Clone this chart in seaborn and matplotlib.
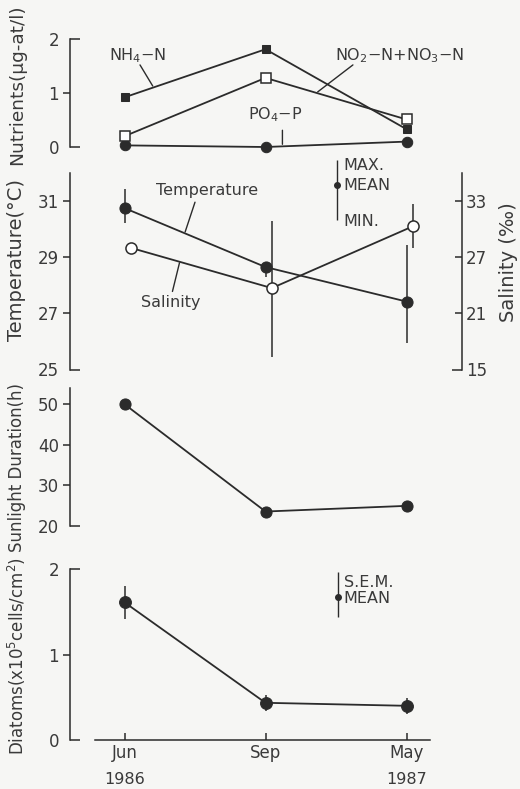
import numpy as np
import pandas as pd
import matplotlib
matplotlib.use("Agg")
import matplotlib.pyplot as plt
import seaborn as sns

# ---- data -------------------------------------------------------------
months = ["Jun", "Sep", "May"]
years = ["1986", "", "1987"]
pos = [0, 1, 2]

nh4 = [0.92, 1.81, 0.33]
no2_no3 = [0.20, 1.28, 0.51]
po4 = [0.03, 0.00, 0.10]

temp_mean = [30.75, 28.65, 27.42]
temp_max = [31.42, 28.83, 29.42]
temp_min = [30.23, 28.30, 25.95]

sal_mean = [28.0, 23.7, 30.3]
sal_max = [np.nan, 30.9, 32.7]
sal_min = [np.nan, 16.3, 28.0]

sunlight = [50.0, 23.5, 24.9]

diatom_mean = [1.61, 0.435, 0.40]
diatom_sem = [0.19, 0.09, 0.095]

# ---- style ------------------------------------------------------------
sns.set_theme(style="ticks")
plt.rcParams["font.family"] = ["DejaVu Sans"]
ink = "#2b2b2b"
txt = "#3a3a3a"
bg = "#f6f6f4"
plt.rcParams.update({
    "text.color": txt, "axes.labelcolor": txt,
    "xtick.color": ink, "ytick.color": ink,
    "xtick.labelcolor": txt, "ytick.labelcolor": txt,
    "axes.edgecolor": ink, "axes.linewidth": 1.1,
})

W, H = 520, 789
fig = plt.figure(figsize=(W / 100, H / 100), dpi=100, facecolor=bg)

X0, X1 = 70, 462          # left / right spine positions (px)
PX_JUN, PX_STEP = 124.5, 141.0
xlim = ((X0 - PX_JUN) / PX_STEP, (X1 - PX_JUN) / PX_STEP)


def frame(top_px, bottom_px):
    return [X0 / W, 1 - bottom_px / H, (X1 - X0) / W, (bottom_px - top_px) / H]


def style_axes(ax, lo, hi, mid_ticks, cap_ticks, fmt="{:g}"):
    ax.set_facecolor("none")
    ax.set_xlim(*xlim)
    ax.set_ylim(lo, hi)
    for s in ("top", "right", "bottom"):
        ax.spines[s].set_visible(False)
    ax.spines["left"].set_bounds(lo, hi)
    ax.set_yticks(mid_ticks)
    ax.set_yticklabels([fmt.format(v) for v in mid_ticks])
    ax.set_yticks(cap_ticks, minor=True)
    ax.set_yticklabels([fmt.format(v) for v in cap_ticks], minor=True)
    ax.tick_params(axis="y", which="major", direction="out", length=5,
                   width=1.1, pad=3, labelsize=12)
    ax.tick_params(axis="y", which="minor", direction="in", length=7,
                   width=1.1, pad=8, labelsize=12)
    ax.set_xticks([])
    ax.grid(False)


line_kw = dict(color=ink, linewidth=1.3, clip_on=False)
lead = dict(arrowstyle="-", color=ink, lw=1.0, shrinkA=0, shrinkB=0)

# ---- nutrients ----------------------------------------------------------
ax1 = fig.add_axes(frame(39, 147))
style_axes(ax1, 0, 2, [1], [0, 2])
sns.lineplot(x=pos, y=po4, ax=ax1, marker="o", markersize=7.5,
             markerfacecolor=ink, markeredgecolor=ink, **line_kw)
sns.lineplot(x=pos, y=no2_no3, ax=ax1, marker="s", markersize=6.5,
             markerfacecolor="white", markeredgecolor=ink, markeredgewidth=1.1, **line_kw)
sns.lineplot(x=pos, y=nh4, ax=ax1, marker="s", markersize=6,
             markerfacecolor=ink, markeredgecolor=ink, **line_kw)

ax1.text(0.09, 1.70, "NH$_4$−N", ha="center", va="center", fontsize=11.5)
ax1.annotate("", xy=(0.20, 1.13), xytext=(0.11, 1.52), arrowprops=lead)
ax1.text(1.95, 1.70, "NO$_2$−N+NO$_3$−N", ha="center", va="center", fontsize=11.5)
ax1.annotate("", xy=(1.37, 1.02), xytext=(1.62, 1.52), arrowprops=lead)
ax1.text(1.07, 0.59, "PO$_4$−P", ha="center", va="center", fontsize=11.5)
ax1.annotate("", xy=(1.12, 0.05), xytext=(1.12, 0.31), arrowprops=lead)

# ---- temperature / salinity --------------------------------------------
ax2 = fig.add_axes(frame(173, 369.5))
style_axes(ax2, 25, 32, [27, 29, 31], [25])
ax2r = ax2.twinx()
ax2r.set_facecolor("none")
ax2r.set_ylim(15, 36)
for s in ("top", "left", "bottom"):
    ax2r.spines[s].set_visible(False)
ax2r.spines["right"].set_bounds(15, 36)
ax2r.set_yticks([21, 27, 33])
ax2r.set_yticks([15], minor=True)
ax2r.set_yticklabels(["15"], minor=True)
ax2r.tick_params(axis="y", which="major", direction="in", length=5, width=1.1,
                 pad=3, labelsize=12)
ax2r.tick_params(axis="y", which="minor", direction="in", length=7, width=1.1,
                 pad=3, labelsize=12)
ax2r.grid(False)
ax2r.set_xlim(*xlim)

sal_pos = [p + 0.045 for p in pos]
ax2.vlines(pos, temp_min, temp_max, color=ink, lw=1.1, clip_on=False)
sns.lineplot(x=pos, y=temp_mean, ax=ax2, marker="o", markersize=8,
             markerfacecolor=ink, markeredgecolor=ink, **line_kw)
sal_ok = [i for i in range(3) if not np.isnan(sal_max[i])]
ax2r.vlines([sal_pos[i] for i in sal_ok], [sal_min[i] for i in sal_ok],
            [sal_max[i] for i in sal_ok], color=ink, lw=1.1, clip_on=False)
sns.lineplot(x=sal_pos, y=sal_mean, ax=ax2r, marker="o", markersize=8,
             markerfacecolor="white", markeredgecolor=ink, markeredgewidth=1.1,
             **line_kw)
ax2r.set_xlim(*xlim)

ax2.text(0.585, 31.39, "Temperature", ha="center", va="center", fontsize=11.5)
ax2.annotate("", xy=(0.43, 29.9), xytext=(0.50, 30.96), arrowprops=lead)
ax2.text(0.33, 27.40, "Salinity", ha="center", va="center", fontsize=11.5)
ax2.annotate("", xy=(0.39, 28.8), xytext=(0.34, 27.78), arrowprops=lead)

# range key
ax2.vlines([1.507], [30.32], [32.45], color=ink, lw=1.0, clip_on=False)
ax2.plot([1.507], [31.57], "o", color=ink, markersize=4, clip_on=False)
ax2.text(1.55, 32.25, "MAX.", ha="left", va="center", fontsize=11.5, clip_on=False)
ax2.text(1.55, 31.57, "MEAN", ha="left", va="center", fontsize=11.5)
ax2.text(1.55, 30.27, "MIN.", ha="left", va="center", fontsize=11.5)

# ---- sunlight -------------------------------------------------------------
ax3 = fig.add_axes(frame(388, 525.7))
style_axes(ax3, 20, 54, [30, 40, 50], [20])
sns.lineplot(x=pos, y=sunlight, ax=ax3, marker="o", markersize=8,
             markerfacecolor=ink, markeredgecolor=ink, **line_kw)

# ---- diatoms --------------------------------------------------------------
ax4 = fig.add_axes(frame(569, 740))
style_axes(ax4, 0, 2, [1], [0, 2])
ax4.spines["bottom"].set_visible(True)
ax4.spines["bottom"].set_bounds(-0.21, 2.17)
ax4.set_xticks(pos)
ax4.set_xticklabels(months)
ax4.tick_params(axis="x", direction="in", length=5, width=1.1, pad=3, labelsize=12)
lo = [m - s for m, s in zip(diatom_mean, diatom_sem)]
hi = [m + s for m, s in zip(diatom_mean, diatom_sem)]
ax4.vlines(pos, lo, hi, color=ink, lw=1.1, clip_on=False)
sns.lineplot(x=pos, y=diatom_mean, ax=ax4, marker="o", markersize=8.5,
             markerfacecolor=ink, markeredgecolor=ink, **line_kw)
for p, yr in zip(pos, years):
    if yr:
        ax4.text(p, -40 / 171, yr, transform=ax4.get_xaxis_transform(),
                 ha="center", va="center", fontsize=11.5)

ax4.vlines([1.514], [1.44], [1.965], color=ink, lw=1.0)
ax4.plot([1.514], [1.67], "o", color=ink, markersize=4)
ax4.text(1.555, 1.84, "S.E.M.", ha="left", va="center", fontsize=11.5)
ax4.text(1.555, 1.66, "MEAN", ha="left", va="center", fontsize=11.5)

# ---- axis titles ----------------------------------------------------------
lab = dict(rotation=90, ha="center", va="center")
fig.text(17 / W, 1 - 85 / H, "Nutrients(μg-at/l)", fontsize=13.3, **lab)
fig.text(17 / W, 1 - 260 / H, "Temperature(°C)", fontsize=14, **lab)
fig.text(509 / W, 1 - 262 / H, "Salinity (‰)", fontsize=14, **lab)
fig.text(17 / W, 1 - 467 / H, "Sunlight Duration(h)", fontsize=12, **lab)
fig.text(17 / W, 1 - 656 / H, "Diatoms(x10$^5$cells/cm$^2$)", fontsize=12, **lab)

fig.savefig("out.png", dpi=100, facecolor=bg)
